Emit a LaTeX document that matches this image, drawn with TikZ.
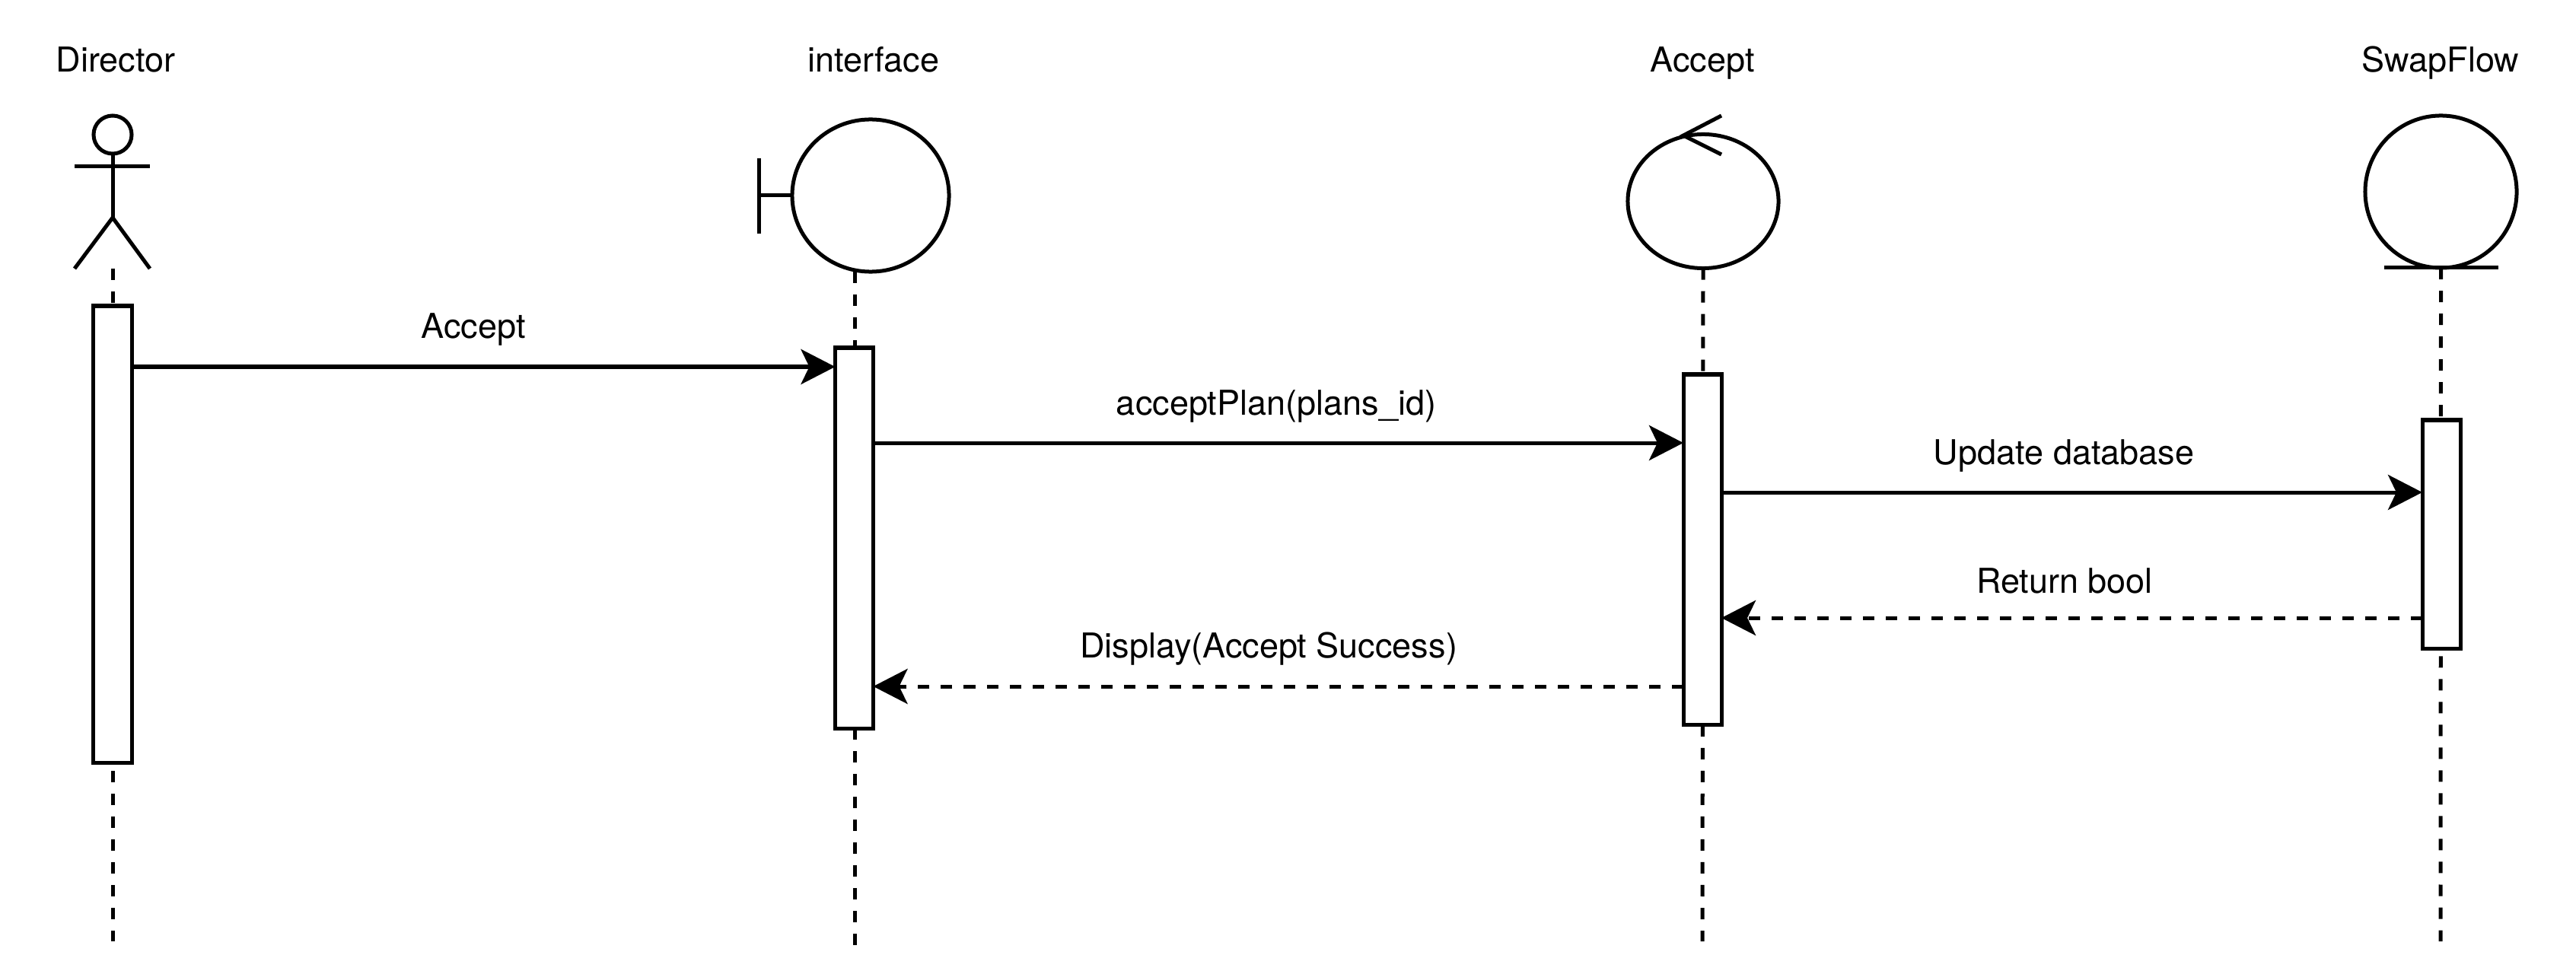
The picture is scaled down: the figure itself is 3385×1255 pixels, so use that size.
\documentclass[tikz,border=0pt]{standalone}
\usepackage{fontspec}
\setmainfont{TeX Gyre Heros}
\usetikzlibrary{shapes.geometric,arrows.meta}

\tikzset{
    umlshape/.style={draw, ellipse, inner sep=0pt, outer sep=0pt},
    lifeline/.style={dash pattern=on 0.15cm off 0.15cm},
    lifebox/.style={draw, fill=white, rectangle, anchor=north, inner sep=0pt, outer sep=0pt, minimum width=0.5cm},
    lbl/.style={anchor=base, inner sep=0pt, font=\fontsize{12.8pt}{15pt}\selectfont},
    call/.style={-{Stealth[length=0.45cm, width=0.46cm, inset=0.11cm]}},
    reply/.style={call, dash pattern=on 0.15cm off 0.15cm}
}

\begin{document}
\begin{tikzpicture}[x=0.01cm, y=-0.01cm, line width=0.05cm]
    \useasboundingbox (0,0) rectangle (3385,1255);

    % titles
    \node[lbl] (titleDirector) at (152,95) {Director};
    \node[lbl] (titleInterface) at (1148,95) {interface};
    \node[lbl] (titleAccept) at (2237,95) {Accept};
    \node[lbl] (titleSwapFlow) at (3207,95) {SwapFlow};

    % actor
    \node[umlshape, minimum width=0.5cm, minimum height=0.5cm] (headDirector) at (148,177) {};
    \coordinate (hipDirector) at (148,286);
    \coordinate (footDirector) at (148,353);
    \draw (headDirector.south) -- (hipDirector);
    \draw (98,219) -- (197,219);
    \draw (98,353) -- (hipDirector) -- (197,353);

    % boundary
    \node[umlshape, minimum width=2.06cm, minimum height=2cm] (bodyInterface) at (1144,257) {};
    \coordinate (barInterface) at (997,257);
    \coordinate (footInterface) at (1123,357);
    \draw (bodyInterface.west) -- (barInterface);
    \draw (997,208) -- (997,307);

    % control
    \node[umlshape, minimum width=1.98cm, minimum height=1.76cm] (bodyAccept) at (2238,264.5) {};
    \draw (2262,152) -- (2212,178) -- (2262,203);

    % entity
    \node[umlshape, minimum width=1.99cm, minimum height=2cm] (bodySwapFlow) at (3207.5,252) {};
    \draw (3133,352) -- (3283,352);

    % lifelines
    \coordinate (endDirector) at (148,1237);
    \coordinate (endInterface) at (1123,1242);
    \coordinate (endAccept) at (2237,1237);
    \coordinate (endSwapFlow) at (3207,1237);
    \draw[lifeline] (footDirector) -- (endDirector);
    \draw[lifeline] (footInterface) -- (endInterface);
    \draw[lifeline] (bodyAccept.south) -- (endAccept);
    \draw[lifeline] (bodySwapFlow.south) -- (endSwapFlow);

    % activations
    \node[lifebox, minimum height=6cm] (boxDirector) at (148,402) {};
    \node[lifebox, minimum height=5cm] (boxInterface) at (1122.5,457) {};
    \node[lifebox, minimum height=4.6cm] (boxAccept) at (2237,492) {};
    \node[lifebox, minimum height=3cm] (boxSwapFlow) at (3208,552) {};

    % messages
    \draw[call] (boxDirector.east |- 0,482) -- (boxInterface.west |- 0,482);
    \draw[call] (boxInterface.east |- 0,582) -- (boxAccept.west |- 0,582);
    \draw[call] (boxAccept.east |- 0,647) -- (boxSwapFlow.west |- 0,647);
    \draw[reply] (boxSwapFlow.west |- 0,812) -- (boxAccept.east |- 0,812);
    \draw[reply] (boxAccept.west |- 0,902) -- (boxInterface.east |- 0,902);

    \node[lbl] (lblAccept) at (622,445) {Accept};
    \node[lbl] (lblPlan) at (1677,545) {acceptPlan(plans\_id)};
    \node[lbl] (lblUpdate) at (2712,610) {Update database};
    \node[lbl] (lblBool) at (2713,779) {Return bool};
    \node[lbl] (lblDisplay) at (1667,864) {Display(Accept Success)};
\end{tikzpicture}
\end{document}
